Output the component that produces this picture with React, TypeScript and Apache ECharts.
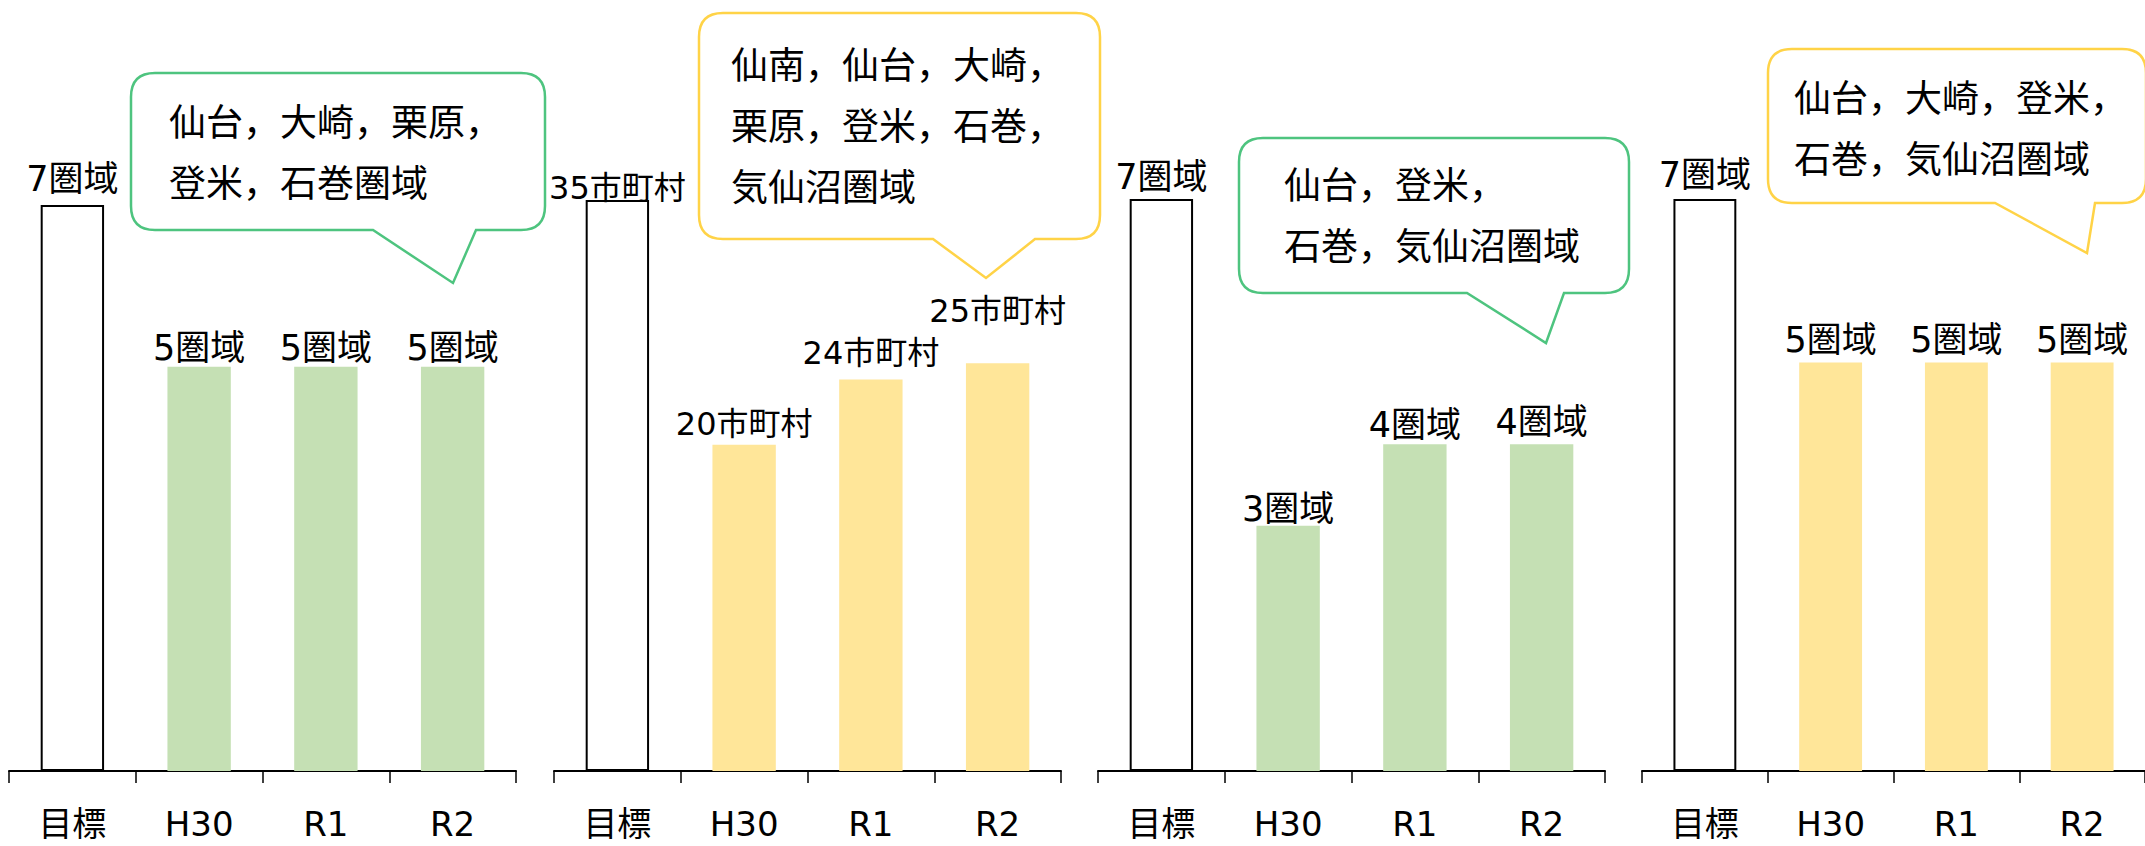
import React, { useEffect, useRef } from "react";
import * as echarts from "echarts";

// ---- data ----
const categories = ["目標", "H30", "R1", "R2"];
const valuesA = [7, 5, 5, 5];
const valuesB = [35, 20, 24, 25];
const valuesC = [7, 3, 4, 4];
const valuesD = [7, 5, 5, 5];
const units = ["圏域", "市町村", "圏域", "圏域"];
const calloutTexts = [
  "仙台，大崎，栗原，\n登米，石巻圏域",
  "仙南，仙台，大崎，\n栗原，登米，石巻，\n気仙沼圏域",
  "仙台，登米，\n石巻，気仙沼圏域",
  "仙台，大崎，登米，\n石巻，気仙沼圏域",
];

// ---- layout / style ----
const panelValues = [valuesA, valuesB, valuesC, valuesD];
const panelFill = ["#C5E0B4", "#FFE699", "#C5E0B4", "#FFE699"];
const calloutStroke = ["#4EC47F", "#FFD347", "#4EC47F", "#FFD347"];
const panelLeft = [9, 554, 1098, 1642];
const panelTop = [205, 200, 199, 199];
const panelWidth = 507;
const labelFont = [35, 32, 35, 35];
const labelGaps = [
  [9, 1, 1, 1],
  [-4, 5, 10, 36],
  [5, -1, 2, 5],
  [7, 5, 5, 5],
];
// callout boxes: x, y, w, h, tail start, tail end, tip x, tip y, text x, text y
const callouts = [
  [131, 73, 414, 157, 373, 476, 453, 283, 169, 93],
  [699, 13, 401, 226, 933, 1035, 986, 278, 731, 36],
  [1239, 138, 390, 155, 1467, 1564, 1546, 343, 1284, 156],
  [1768, 49, 378, 154, 1995, 2095, 2087, 253, 1794, 69],
];
const FONT = "'DejaVu Sans', 'Noto Sans CJK JP', sans-serif";

function calloutPath(c: number[]) {
  const [x, y, w, h, a, b, tx, ty] = c;
  const r = 24;
  const R = x + w;
  const B = y + h;
  return (
    `M${x + r},${y} L${R - r},${y} Q${R},${y} ${R},${y + r} ` +
    `L${R},${B - r} Q${R},${B} ${R - r},${B} L${b},${B} L${tx},${ty} L${a},${B} ` +
    `L${x + r},${B} Q${x},${B} ${x},${B - r} L${x},${y + r} Q${x},${y} ${x + r},${y} Z`
  );
}

let registered = false;
function registerCallouts() {
  if (registered) return;
  callouts.forEach((c, i) => {
    echarts.graphic.registerShape("callout" + i, echarts.graphic.extendPath(calloutPath(c), {}));
  });
  registered = true;
}

export default function App() {
  const ref = useRef<HTMLDivElement>(null);
  useEffect(() => {
    document.body.style.margin = "0";
    registerCallouts();
    const chart = echarts.init(ref.current!, null, { renderer: "svg" });
    const grid = panelLeft.map((l, i) => ({
      left: l,
      width: panelWidth,
      top: panelTop[i],
      bottom: 75,
    }));
    const xAxis = panelLeft.map((_, i) => ({
      type: "category",
      gridIndex: i,
      data: categories,
      boundaryGap: true,
      axisLine: { show: true, lineStyle: { color: "#000", width: 2 } },
      axisTick: { show: true, length: 12, lineStyle: { color: "#000", width: 1.5 } },
      axisLabel: { color: "#000", fontSize: 34, fontFamily: FONT, margin: 36, interval: 0 },
    }));
    const yAxis = panelLeft.map((_, i) => ({
      type: "value",
      gridIndex: i,
      min: 0,
      max: panelValues[i][0],
      show: false,
      splitLine: { show: false },
    }));
    const series = panelValues.map((vals, i) => ({
      type: "bar",
      xAxisIndex: i,
      yAxisIndex: i,
      barWidth: "50%",
      label: {
        show: true,
        position: "top",
        color: "#000",
        fontSize: labelFont[i],
        fontFamily: FONT,
        formatter: (p: any) => `${p.value}${units[i]}`,
      },
      data: vals.map((v, j) => ({
        value: v,
        itemStyle:
          j === 0
            ? { color: "#ffffff", borderColor: "#000", borderWidth: 2 }
            : { color: panelFill[i] },
        label: { distance: labelGaps[i][j] },
      })),
    }));
    const graphic: any[] = [];
    callouts.forEach((c, i) => {
      graphic.push({
        type: "callout" + i,
        x: 0,
        y: 0,
        z: 10,
        style: { fill: "#ffffff", stroke: calloutStroke[i], lineWidth: 2.5 },
      });
      graphic.push({
        type: "text",
        x: c[8],
        y: c[9],
        z: 11,
        style: {
          text: calloutTexts[i],
          font: `37px ${FONT}`,
          lineHeight: 61,
          fill: "#000",
          textVerticalAlign: "top",
        },
      });
    });
    chart.setOption({
      animation: false,
      backgroundColor: "#ffffff",
      grid,
      xAxis,
      yAxis,
      series,
      graphic,
    } as any);
    return () => chart.dispose();
  }, []);
  return (
    <div
      ref={ref}
      style={{ position: "fixed", left: 0, top: 0, width: 2145, height: 846 }}
    />
  );
}
